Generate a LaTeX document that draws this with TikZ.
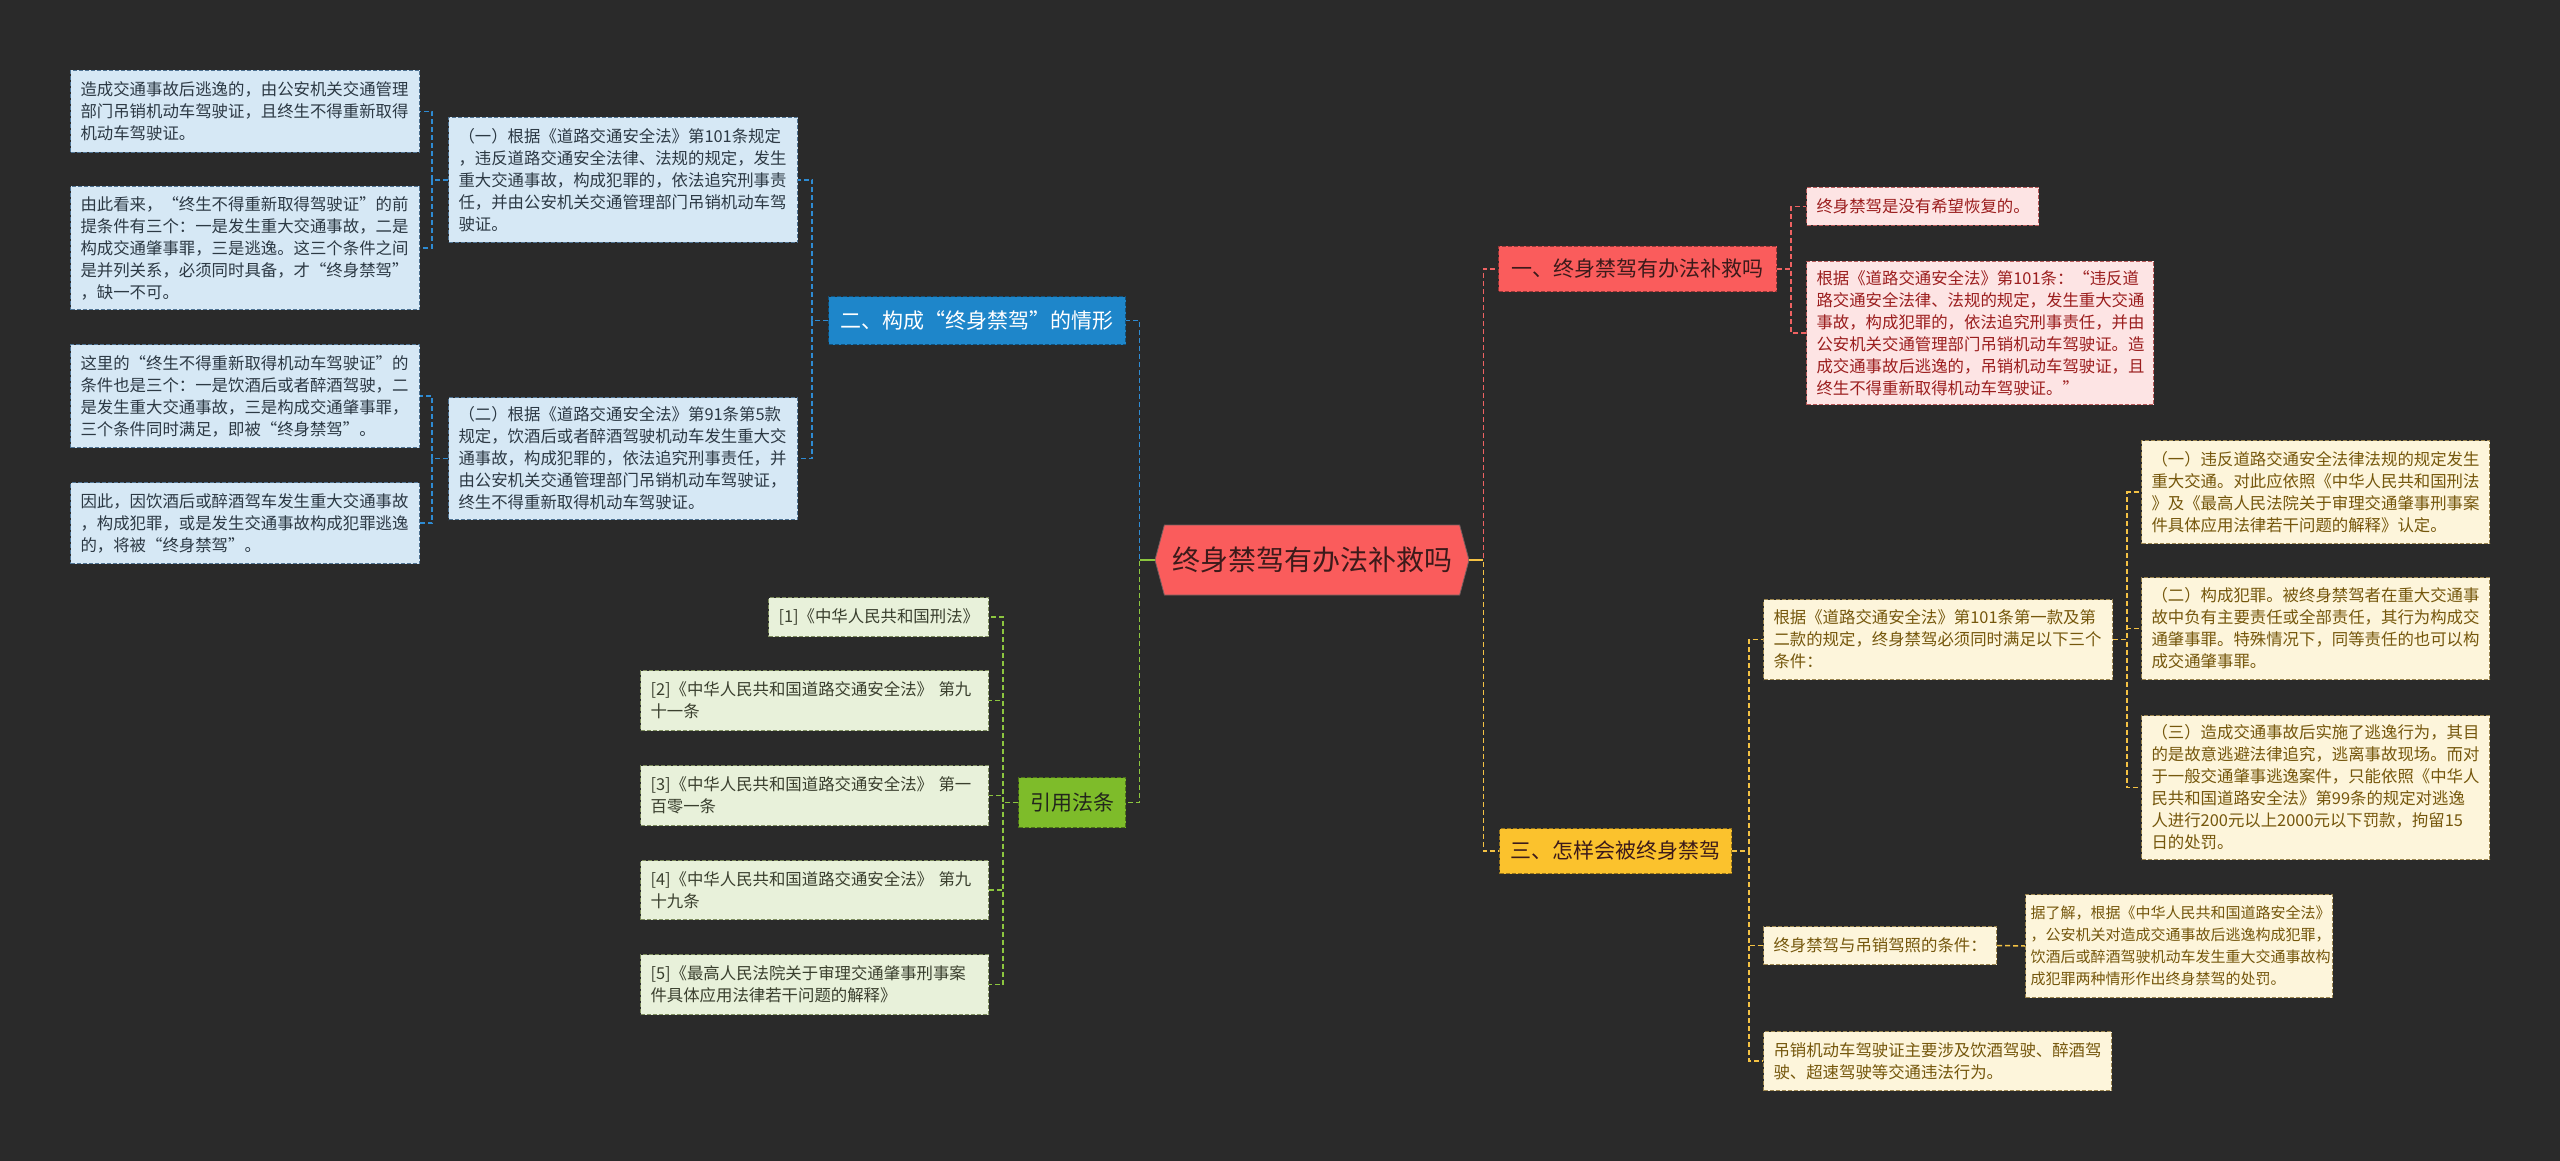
\documentclass[tikz,border=0pt]{standalone}
\usepackage{fontspec}
\setmainfont{Noto Sans CJK SC}
\usetikzlibrary{shapes.symbols}

\definecolor{bgDark}{HTML}{2A2A2A}
\definecolor{hubRed}{HTML}{FA5C5C}
\definecolor{hubInk}{HTML}{3C1A1A}
\definecolor{blueMain}{HTML}{1E86CA}
\definecolor{blueLight}{HTML}{D6E8F5}
\definecolor{blueEdge}{HTML}{4F7393}
\definecolor{blueInk}{HTML}{2C3944}
\definecolor{blueLink}{HTML}{2E8BD3}
\definecolor{redLight}{HTML}{FDE4E4}
\definecolor{redEdge}{HTML}{B85858}
\definecolor{redInk}{HTML}{9B1E1E}
\definecolor{redLink}{HTML}{EE6262}
\definecolor{greenMain}{HTML}{7EBC2A}
\definecolor{greenLight}{HTML}{E8F1DA}
\definecolor{greenEdge}{HTML}{7D8C5E}
\definecolor{greenInk}{HTML}{3A3F2E}
\definecolor{greenLink}{HTML}{8CC63F}
\definecolor{yellowMain}{HTML}{FBC22D}
\definecolor{yellowLight}{HTML}{FDF5DB}
\definecolor{yellowEdge}{HTML}{9C8650}
\definecolor{yellowInk}{HTML}{75570C}
\definecolor{yellowLink}{HTML}{F4C244}

\begin{document}
\begin{tikzpicture}[x=1pt, y=-1pt,
        box/.style={draw, dash pattern=on 4pt off 2pt, line width=1pt, align=left, anchor=north west,
            inner xsep=10pt, inner ysep=3pt, font=\fontsize{16.4}{22}\selectfont},
        blueBox/.style={box, fill=blueLight, draw=blueEdge, text=blueInk},
        redBox/.style={box, fill=redLight, draw=redEdge, text=redInk},
        greenBox/.style={box, fill=greenLight, draw=greenEdge, text=greenInk},
        yellowBox/.style={box, fill=yellowLight, draw=yellowEdge, text=yellowInk},
        topic/.style={draw, dash pattern=on 4pt off 2pt, line width=1pt, anchor=north west, align=center,
            inner xsep=0pt, inner ysep=0pt, font=\fontsize{21}{26}\selectfont},
        link/.style={dash pattern=on 5pt off 3pt, line width=1.5pt}
    ]
        \fill[bgDark] (0,0) rectangle (2560,1161);
        \useasboundingbox (0,0) rectangle (2560,1161);

        % Nodes
        \node (hub) at (1312,560) [signal, signal to=west and east, signal pointer angle=150,
            minimum width=314pt, minimum height=70pt, inner sep=0pt, fill=hubRed, draw=hubInk!70,
            line width=0.8pt, text=hubInk, font=\fontsize{28}{32}\selectfont] {终身禁驾有办法补救吗};

        \node (situation) at (828,296) [topic, fill=blueMain, draw=blueMain!60!black, text=white,
            minimum width=297pt, minimum height=48pt] {二、构成“终身禁驾”的情形};
        \node (art101) at (448,117) [blueBox, text width=329pt, minimum height=125pt]
            {（一）根据《道路交通安全法》第101条规定\\，违反道路交通安全法律、法规的规定，发生\\重大交通事故，构成犯罪的，依法追究刑事责\\任，并由公安机关交通管理部门吊销机动车驾\\驶证。};
        \node (art91) at (448,397) [blueBox, text width=329pt, minimum height=122pt]
            {（二）根据《道路交通安全法》第91条第5款\\规定，饮酒后或者醉酒驾驶机动车发生重大交\\通事故，构成犯罪的，依法追究刑事责任，并\\由公安机关交通管理部门吊销机动车驾驶证，\\终生不得重新取得机动车驾驶证。};
        \node (hitRun) at (70,70) [blueBox, text width=329pt, minimum height=82pt]
            {造成交通事故后逃逸的，由公安机关交通管理\\部门吊销机动车驾驶证，且终生不得重新取得\\机动车驾驶证。};
        \node (threeCond) at (70,186) [blueBox, text width=329pt, minimum height=123pt]
            {由此看来，“终生不得重新取得驾驶证”的前\\提条件有三个：一是发生重大交通事故，二是\\构成交通肇事罪，三是逃逸。这三个条件之间\\是并列关系，必须同时具备，才“终身禁驾”\\，缺一不可。};
        \node (drunkCond) at (70,344) [blueBox, text width=329pt, minimum height=103pt]
            {这里的“终生不得重新取得机动车驾驶证”的\\条件也是三个：一是饮酒后或者醉酒驾驶，二\\是发生重大交通事故，三是构成交通肇事罪，\\三个条件同时满足，即被“终身禁驾”。};
        \node (soDrunk) at (70,482) [blueBox, text width=329pt, minimum height=81pt]
            {因此，因饮酒后或醉酒驾车发生重大交通事故\\，构成犯罪，或是发生交通事故构成犯罪逃逸\\的，将被“终身禁驾”。};

        \node (lawRefs) at (1018,777) [topic, fill=greenMain, draw=greenMain!60!black, text=greenInk!60!black,
            minimum width=107pt, minimum height=50pt] {引用法条};
        \node (refA) at (768,597) [greenBox, text width=200pt, minimum height=39pt] {[1]《中华人民共和国刑法》};
        \node (refB) at (640,670) [greenBox, text width=328pt, minimum height=60pt] {[2]《中华人民共和国道路交通安全法》 第九\\十一条};
        \node (refC) at (640,765) [greenBox, text width=328pt, minimum height=60pt] {[3]《中华人民共和国道路交通安全法》 第一\\百零一条};
        \node (refD) at (640,860) [greenBox, text width=328pt, minimum height=59pt] {[4]《中华人民共和国道路交通安全法》 第九\\十九条};
        \node (refE) at (640,954) [greenBox, text width=328pt, minimum height=60pt] {[5]《最高人民法院关于审理交通肇事刑事案\\件具体应用法律若干问题的解释》};

        \node (remedy) at (1498,246) [topic, fill=hubRed, draw=hubRed!60!black, text=hubInk,
            minimum width=278pt, minimum height=45pt] {一、终身禁驾有办法补救吗};
        \node (noHope) at (1806,187) [redBox, text width=212pt, minimum height=38pt] {终身禁驾是没有希望恢复的。};
        \node (art101q) at (1806,261) [redBox, text width=327pt, minimum height=143pt]
            {根据《道路交通安全法》第101条：“违反道\\路交通安全法律、法规的规定，发生重大交通\\事故，构成犯罪的，依法追究刑事责任，并由\\公安机关交通管理部门吊销机动车驾驶证。造\\成交通事故后逃逸的，吊销机动车驾驶证，且\\终生不得重新取得机动车驾驶证。”};

        \node (howBan) at (1499,828) [topic, fill=yellowMain, draw=yellowMain!60!black, text=hubInk,
            minimum width=232pt, minimum height=45pt] {三、怎样会被终身禁驾};
        \node (threeReq) at (1763,599) [yellowBox, text width=329pt, minimum height=80pt]
            {根据《道路交通安全法》第101条第一款及第\\二款的规定，终身禁驾必须同时满足以下三个\\条件：};
        \node (violate) at (2141,440) [yellowBox, text width=328pt, minimum height=103pt]
            {（一）违反道路交通安全法律法规的规定发生\\重大交通。对此应依照《中华人民共和国刑法\\》及《最高人民法院关于审理交通肇事刑事案\\件具体应用法律若干问题的解释》认定。};
        \node (crime) at (2141,577) [yellowBox, text width=328pt, minimum height=102pt]
            {（二）构成犯罪。被终身禁驾者在重大交通事\\故中负有主要责任或全部责任，其行为构成交\\通肇事罪。特殊情况下，同等责任的也可以构\\成交通肇事罪。};
        \node (escape) at (2141,715) [yellowBox, text width=328pt, minimum height=144pt]
            {（三）造成交通事故后实施了逃逸行为，其目\\的是故意逃避法律追究，逃离事故现场。而对\\于一般交通肇事逃逸案件，只能依照《中华人\\民共和国道路安全法》第99条的规定对逃逸\\人进行200元以上2000元以下罚款，拘留15\\日的处罚。};
        \node (banVsRevoke) at (1763,926) [yellowBox, text width=213pt, minimum height=38pt] {终身禁驾与吊销驾照的条件：};
        \node (learned) at (2025,894) [yellowBox, inner xsep=5pt, text width=297pt, minimum height=103pt,
            font=\fontsize{15}{22}\selectfont]
            {据了解，根据《中华人民共和国道路安全法》\\，公安机关对造成交通事故后逃逸构成犯罪，\\饮酒后或醉酒驾驶机动车发生重大交通事故构\\成犯罪两种情形作出终身禁驾的处罚。};
        \node (revokeCase) at (1763,1031) [yellowBox, text width=328pt, minimum height=59pt]
            {吊销机动车驾驶证主要涉及饮酒驾驶、醉酒驾\\驶、超速驾驶等交通违法行为。};

    \begin{scope}[link]
        % Connections
        \draw[blueLink] (hub.west) -- ++(-15,0) |- (situation.east);
        \draw[greenLink] (hub.west) -- ++(-15,0) |- (lawRefs.east);
        \draw[greenLink, solid] (hub.west) -- ++(-15,0);
        \draw[redLink] (hub.east) -- ++(14,0) |- (remedy.west);
        \draw[yellowLink] (hub.east) -- ++(14,0) |- (howBan.west);
        \draw[yellowLink, solid] (hub.east) -- ++(14,0);

        \draw[blueLink] (situation.west) -- ++(-16,0) |- (art101.east);
        \draw[blueLink] (situation.west) -- ++(-16,0) |- (art91.east);
        \draw[blueLink] (art101.west) -- ++(-16,0) |- (hitRun.east);
        \draw[blueLink] (art101.west) -- ++(-16,0) |- (threeCond.east);
        \draw[blueLink] (art91.west) -- ++(-16,0) |- (drunkCond.east);
        \draw[blueLink] (art91.west) -- ++(-16,0) |- (soDrunk.east);

        \foreach \ref in {refA, refB, refC, refD, refE}
            \draw[greenLink] (lawRefs.west) -- ++(-15,0) |- (\ref.east);

        \draw[redLink] (remedy.east) -- ++(14,0) |- (noHope.west);
        \draw[redLink] (remedy.east) -- ++(14,0) |- (art101q.west);

        \foreach \kid in {threeReq, banVsRevoke, revokeCase}
            \draw[yellowLink] (howBan.east) -- ++(17,0) |- (\kid.west);
        \foreach \kid in {violate, crime, escape}
            \draw[yellowLink] (threeReq.east) -- ++(14,0) |- (\kid.west);
        \draw[yellowLink] (banVsRevoke.east) -- (learned.west);
    \end{scope}
    \end{tikzpicture}
\end{document}
